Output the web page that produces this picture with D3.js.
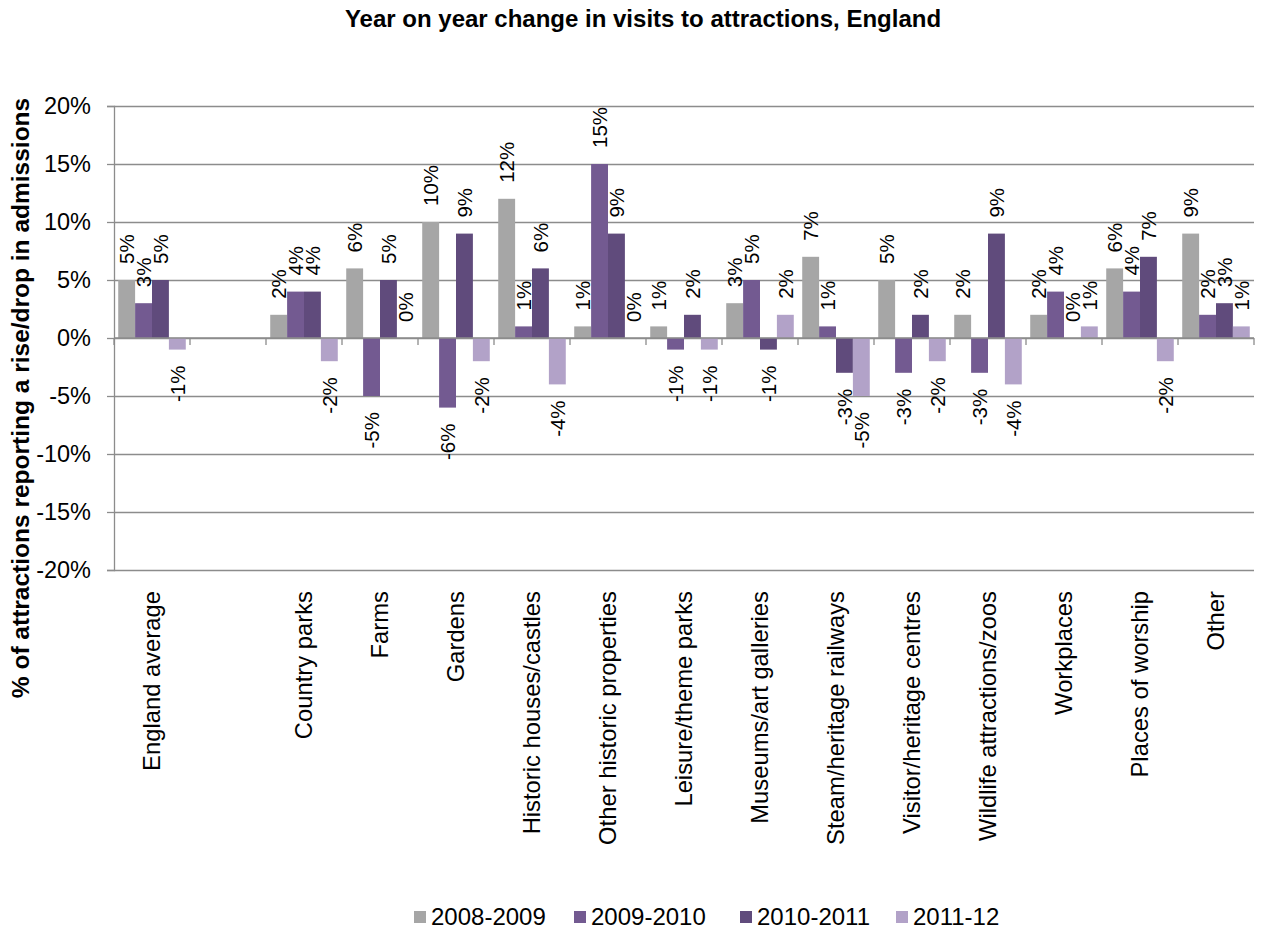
<!DOCTYPE html>
<html>
<head>
<meta charset="utf-8">
<script src="https://cdn.jsdelivr.net/npm/d3@7"></script>
<style>
  html, body { margin: 0; padding: 0; background: #fff; }
  svg text { font-family: "Liberation Sans", Arial, Helvetica, sans-serif; fill: #000; }
</style>
</head>
<body>
<svg id="chart" width="1261" height="939"></svg>
<script>
// Attraction categories (the blank entry leaves a spacer after the average)
const categories = [
  "England average", "", "Country parks", "Farms", "Gardens",
  "Historic houses/castles", "Other historic properties", "Leisure/theme parks",
  "Museums/art galleries", "Steam/heritage railways", "Visitor/heritage centres",
  "Wildlife attractions/zoos", "Workplaces", "Places of worship", "Other"
];

// Year-on-year change, per cent
const series2008_09 = [5, null, 2, 6, 10, 12, 1, 1, 3, 7, 5, 2, 2, 6, 9];
const series2009_10 = [3, null, 4, -5, -6, 1, 15, -1, 5, 1, -3, -3, 4, 4, 2];
const series2010_11 = [5, null, 4, 5, 9, 6, 9, 2, -1, -3, 2, 9, 0, 7, 3];
const series2011_12 = [-1, null, -2, 0, -2, -4, 0, -1, 2, -5, -2, -4, 1, -2, 1];

const seriesNames = ["2008-2009", "2009-2010", "2010-2011", "2011-12"];
const seriesColors = ["#a6a6a6", "#735a91", "#604b7c", "#b2a2c8"];
const yTicks = [-20, -15, -10, -5, 0, 5, 10, 15, 20];

const seriesValues = [series2008_09, series2009_10, series2010_11, series2011_12];

const svg = d3.select("#chart");
const margin = { left: 114, right: 7, top: 106, bottom: 369 };
const W = 1261, H = 939;
const plotW = W - margin.left - margin.right;
const plotH = H - margin.top - margin.bottom;

const g = svg.append("g").attr("transform", `translate(${margin.left},${margin.top})`);

const x = d3.scaleBand().domain(d3.range(categories.length)).range([0, plotW]).paddingInner(0).paddingOuter(0);
const inner = d3.scaleBand().domain(d3.range(seriesNames.length)).range([0, x.bandwidth()]).paddingInner(0).paddingOuter(0.25);
const y = d3.scaleLinear().domain([-20, 20]).range([plotH, 0]);

const gridColor = "#8c8c8c";

// Horizontal gridlines
g.append("g")
  .call(d3.axisLeft(y).tickValues(yTicks).tickSize(-plotW).tickFormat(""))
  .call(s => s.select(".domain").remove())
  .call(s => s.selectAll("line").attr("stroke", gridColor).attr("stroke-width", 1.3));

// Y axis with outward ticks
g.append("g")
  .call(d3.axisLeft(y).tickValues(yTicks).tickSize(7).tickPadding(16).tickFormat(d => d + "%"))
  .call(s => s.select(".domain").attr("stroke", gridColor).attr("stroke-width", 1.3))
  .call(s => s.selectAll("line").attr("stroke", gridColor).attr("stroke-width", 1.3))
  .call(s => s.selectAll("text").style("font-size", "23.5px").attr("fill", "#000"));

// Bars
seriesValues.forEach((vals, si) => {
  const bars = vals.map((v, ci) => ({ v, ci })).filter(d => d.v !== null);
  g.append("g").selectAll("rect").data(bars).join("rect")
    .attr("x", d => x(d.ci) + inner(si))
    .attr("width", inner.bandwidth())
    .attr("y", d => y(Math.max(0, d.v)))
    .attr("height", d => Math.abs(y(d.v) - y(0)))
    .attr("fill", seriesColors[si]);
});

// Zero line with category boundary ticks
const zeroY = y(0);
g.append("line").attr("x1", 0).attr("x2", plotW).attr("y1", zeroY).attr("y2", zeroY)
  .attr("stroke", gridColor).attr("stroke-width", 1.3);
const boundaries = d3.range(categories.length).map(i => x(i) + x.step()).concat([x(0)]);
g.append("g").selectAll("line").data(boundaries).join("line")
  .attr("x1", d => d).attr("x2", d => d)
  .attr("y1", zeroY).attr("y2", zeroY + 7)
  .attr("stroke", gridColor).attr("stroke-width", 1.3);

// Value labels, rotated, beyond the bar end
seriesValues.forEach((vals, si) => {
  const labels = vals.map((v, ci) => ({ v, ci })).filter(d => d.v !== null);
  g.append("g").selectAll("text").data(labels).join("text")
    .attr("transform", d => {
      const cx = x(d.ci) + inner(si) + inner.bandwidth() / 2;
      const cy = d.v >= 0 ? y(d.v) - 16 : y(d.v) + 16;
      return `translate(${cx},${cy}) rotate(-90)`;
    })
    .attr("text-anchor", d => d.v >= 0 ? "start" : "end")
    .attr("dy", "0.35em")
    .style("font-size", "20.5px")
    .text(d => d.v + "%");
});

// Category labels along the bottom
g.append("g")
  .attr("transform", `translate(0,${plotH})`)
  .call(d3.axisBottom(x).tickSize(0).tickFormat(i => categories[i]))
  .call(s => s.select(".domain").remove())
  .call(s => s.selectAll("text")
    .attr("transform", "rotate(-90)")
    .attr("text-anchor", "end")
    .attr("x", -21)
    .attr("y", 0)
    .attr("dy", "0.35em")
    .style("font-size", "23.8px")
    .attr("fill", "#000"));

// Title
svg.append("text")
  .attr("x", 643).attr("y", 27)
  .attr("text-anchor", "middle")
  .style("font-size", "24px").style("font-weight", "bold")
  .text("Year on year change in visits to attractions, England");

// Y axis title
svg.append("text")
  .attr("transform", `translate(29,${margin.top + plotH / 2 + 60}) rotate(-90)`)
  .attr("text-anchor", "middle")
  .style("font-size", "24.5px").style("font-weight", "bold")
  .text("% of attractions reporting a rise/drop in admissions");

// Legend
const legendX = [414, 574, 740, 896];
const legend = svg.append("g").attr("transform", "translate(0,917)");
seriesNames.forEach((name, i) => {
  const item = legend.append("g").attr("transform", `translate(${legendX[i]},0)`);
  item.append("rect").attr("x", 0).attr("y", -6).attr("width", 12).attr("height", 12).attr("fill", seriesColors[i]);
  item.append("text").attr("x", 17).attr("dy", "0.35em").style("font-size", "24px").text(name);
});
</script>
</body>
</html>
